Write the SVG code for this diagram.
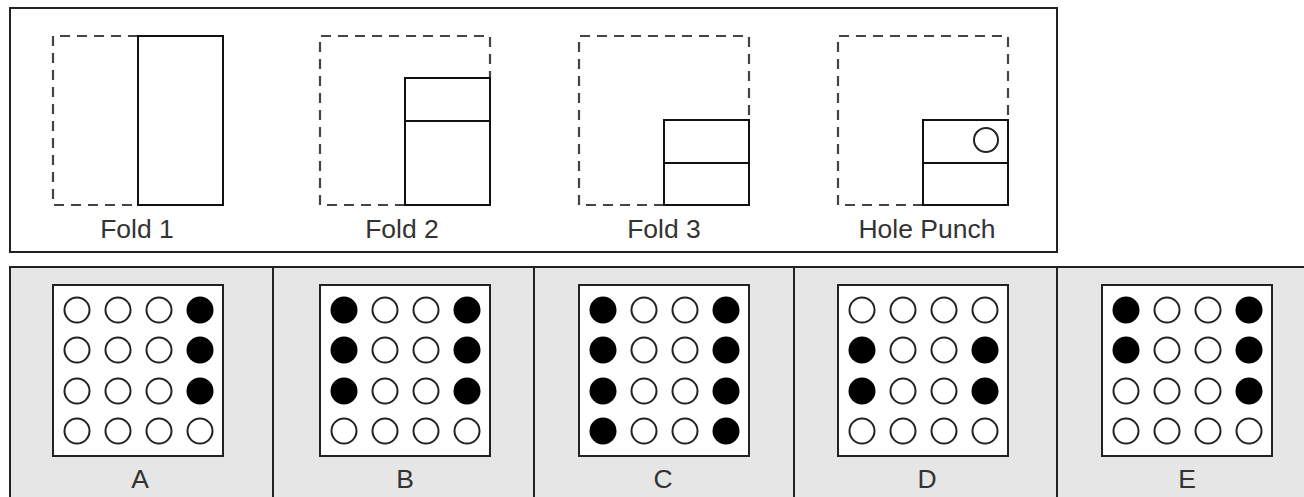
<svg xmlns="http://www.w3.org/2000/svg" width="1304" height="497" viewBox="0 0 1304 497">
<style>
.frame{fill:#fff;stroke:#222;stroke-width:2}
.row{fill:#e6e6e6;stroke:#222;stroke-width:2}
.div{stroke:#222;stroke-width:2}
.dash{fill:none;stroke:#444;stroke-width:2.2;stroke-dasharray:10 7}
.sheet{fill:#fff;stroke:#111;stroke-width:2}
.crease{stroke:#111;stroke-width:2}
.hole{fill:#fff;stroke:#222;stroke-width:2}
.box{fill:#fff;stroke:#222;stroke-width:2}
.o{fill:#fff;stroke:#222;stroke-width:2}
.f{fill:#000}
.lbl{font-family:"Liberation Sans",Arial,sans-serif;font-size:26.5px;fill:#333;text-anchor:middle}
</style>
<rect class="frame" x="10" y="8" width="1047" height="244"/>
<rect class="row" x="10" y="267" width="1300" height="240"/>
<g id="dividers">
<line class="div" x1="273" y1="267" x2="273" y2="497"/>
<line class="div" x1="534" y1="267" x2="534" y2="497"/>
<line class="div" x1="794" y1="267" x2="794" y2="497"/>
<line class="div" x1="1057" y1="267" x2="1057" y2="497"/>
</g>
<g id="fold1">
<path class="dash" d="M138,36 H53 V205 H138"/>
<rect class="sheet" x="138" y="36" width="85" height="169"/>
<text class="lbl" x="137" y="238">Fold 1</text>
</g>
<g id="fold2">
<path class="dash" d="M405,205 H320 V36 H490 V78"/>
<rect class="sheet" x="405" y="78" width="85" height="127"/>
<line class="crease" x1="405" y1="121" x2="490" y2="121"/>
<text class="lbl" x="402" y="238">Fold 2</text>
</g>
<g id="fold3">
<path class="dash" d="M664,205 H579 V36 H749 V120"/>
<rect class="sheet" x="664" y="120" width="85" height="85"/>
<line class="crease" x1="664" y1="163" x2="749" y2="163"/>
<text class="lbl" x="664" y="238">Fold 3</text>
</g>
<g id="punch">
<path class="dash" d="M923,205 H838 V36 H1008 V120"/>
<rect class="sheet" x="923" y="120" width="85" height="85"/>
<line class="crease" x1="923" y1="163" x2="1008" y2="163"/>
<circle class="hole" cx="986" cy="140" r="12"/>
<text class="lbl" x="927" y="238">Hole Punch</text>
</g>
<g id="optA" transform="translate(53,285)">
<rect class="box" x="0" y="0" width="170" height="171"/>
<circle class="o" cx="24" cy="25" r="12.5"/><circle class="o" cx="65" cy="25" r="12.5"/><circle class="o" cx="106" cy="25" r="12.5"/><circle class="f" cx="147" cy="25" r="13.5"/>
<circle class="o" cx="24" cy="65" r="12.5"/><circle class="o" cx="65" cy="65" r="12.5"/><circle class="o" cx="106" cy="65" r="12.5"/><circle class="f" cx="147" cy="65" r="13.5"/>
<circle class="o" cx="24" cy="106" r="12.5"/><circle class="o" cx="65" cy="106" r="12.5"/><circle class="o" cx="106" cy="106" r="12.5"/><circle class="f" cx="147" cy="106" r="13.5"/>
<circle class="o" cx="24" cy="146" r="12.5"/><circle class="o" cx="65" cy="146" r="12.5"/><circle class="o" cx="106" cy="146" r="12.5"/><circle class="o" cx="147" cy="146" r="12.5"/>
<text class="lbl" x="87" y="203">A</text>
</g>
<g id="optB" transform="translate(320,285)">
<rect class="box" x="0" y="0" width="170" height="171"/>
<circle class="f" cx="24" cy="25" r="13.5"/><circle class="o" cx="65" cy="25" r="12.5"/><circle class="o" cx="106" cy="25" r="12.5"/><circle class="f" cx="147" cy="25" r="13.5"/>
<circle class="f" cx="24" cy="65" r="13.5"/><circle class="o" cx="65" cy="65" r="12.5"/><circle class="o" cx="106" cy="65" r="12.5"/><circle class="f" cx="147" cy="65" r="13.5"/>
<circle class="f" cx="24" cy="106" r="13.5"/><circle class="o" cx="65" cy="106" r="12.5"/><circle class="o" cx="106" cy="106" r="12.5"/><circle class="f" cx="147" cy="106" r="13.5"/>
<circle class="o" cx="24" cy="146" r="12.5"/><circle class="o" cx="65" cy="146" r="12.5"/><circle class="o" cx="106" cy="146" r="12.5"/><circle class="o" cx="147" cy="146" r="12.5"/>
<text class="lbl" x="85" y="203">B</text>
</g>
<g id="optC" transform="translate(579,285)">
<rect class="box" x="0" y="0" width="170" height="171"/>
<circle class="f" cx="24" cy="25" r="13.5"/><circle class="o" cx="65" cy="25" r="12.5"/><circle class="o" cx="106" cy="25" r="12.5"/><circle class="f" cx="147" cy="25" r="13.5"/>
<circle class="f" cx="24" cy="65" r="13.5"/><circle class="o" cx="65" cy="65" r="12.5"/><circle class="o" cx="106" cy="65" r="12.5"/><circle class="f" cx="147" cy="65" r="13.5"/>
<circle class="f" cx="24" cy="106" r="13.5"/><circle class="o" cx="65" cy="106" r="12.5"/><circle class="o" cx="106" cy="106" r="12.5"/><circle class="f" cx="147" cy="106" r="13.5"/>
<circle class="f" cx="24" cy="146" r="13.5"/><circle class="o" cx="65" cy="146" r="12.5"/><circle class="o" cx="106" cy="146" r="12.5"/><circle class="f" cx="147" cy="146" r="13.5"/>
<text class="lbl" x="84" y="203">C</text>
</g>
<g id="optD" transform="translate(838,285)">
<rect class="box" x="0" y="0" width="170" height="171"/>
<circle class="o" cx="24" cy="25" r="12.5"/><circle class="o" cx="65" cy="25" r="12.5"/><circle class="o" cx="106" cy="25" r="12.5"/><circle class="o" cx="147" cy="25" r="12.5"/>
<circle class="f" cx="24" cy="65" r="13.5"/><circle class="o" cx="65" cy="65" r="12.5"/><circle class="o" cx="106" cy="65" r="12.5"/><circle class="f" cx="147" cy="65" r="13.5"/>
<circle class="f" cx="24" cy="106" r="13.5"/><circle class="o" cx="65" cy="106" r="12.5"/><circle class="o" cx="106" cy="106" r="12.5"/><circle class="f" cx="147" cy="106" r="13.5"/>
<circle class="o" cx="24" cy="146" r="12.5"/><circle class="o" cx="65" cy="146" r="12.5"/><circle class="o" cx="106" cy="146" r="12.5"/><circle class="o" cx="147" cy="146" r="12.5"/>
<text class="lbl" x="89" y="203">D</text>
</g>
<g id="optE" transform="translate(1102,285)">
<rect class="box" x="0" y="0" width="170" height="171"/>
<circle class="f" cx="24" cy="25" r="13.5"/><circle class="o" cx="65" cy="25" r="12.5"/><circle class="o" cx="106" cy="25" r="12.5"/><circle class="f" cx="147" cy="25" r="13.5"/>
<circle class="f" cx="24" cy="65" r="13.5"/><circle class="o" cx="65" cy="65" r="12.5"/><circle class="o" cx="106" cy="65" r="12.5"/><circle class="f" cx="147" cy="65" r="13.5"/>
<circle class="o" cx="24" cy="106" r="12.5"/><circle class="o" cx="65" cy="106" r="12.5"/><circle class="o" cx="106" cy="106" r="12.5"/><circle class="f" cx="147" cy="106" r="13.5"/>
<circle class="o" cx="24" cy="146" r="12.5"/><circle class="o" cx="65" cy="146" r="12.5"/><circle class="o" cx="106" cy="146" r="12.5"/><circle class="o" cx="147" cy="146" r="12.5"/>
<text class="lbl" x="85" y="203">E</text>
</g>
</svg>
